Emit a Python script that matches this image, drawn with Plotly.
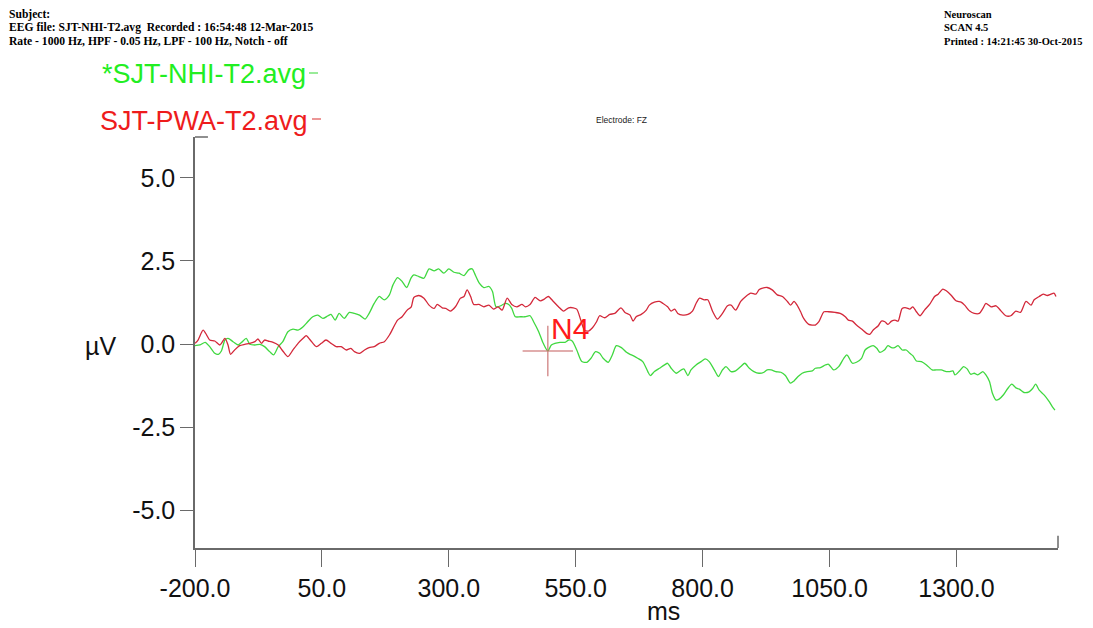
import plotly.graph_objects as go

# ---------------- data ----------------
green_ms = [-200, -190, -180, -171, -161, -154, -148, -141, -135, -125, -115, -108, -99, -92, -82, -72, -63, -53, -45, -36, -27, -17, -7, 3, 13, 22, 32, 42, 52, 62, 68, 76, 84, 94, 104, 114, 124, 135, 143, 153, 163, 173, 183, 190, 199, 208, 217, 226,
            231, 241, 251, 261, 271, 280, 290, 300, 310, 320, 330, 339, 346, 352, 360, 369, 379, 386, 393, 402, 411, 418, 424, 431, 441, 450, 460, 467, 477, 486, 495, 502, 509, 519, 529, 536, 543, 552, 562, 572, 580, 589, 597, 604, 614, 622, 630, 640, 650, 657,
            663, 672, 682, 692, 697, 705, 715, 725, 731, 738, 748, 758, 763, 771, 777, 787, 797, 805, 813, 823, 831, 839, 846, 856, 865, 875, 883, 892, 901, 911, 921, 927, 935, 944, 954, 963, 973, 980, 988, 996, 1006, 1016, 1022, 1032, 1042, 1048, 1058, 1068, 1078, 1084,
            1087, 1095, 1103, 1113, 1120, 1126, 1136, 1143, 1149, 1158, 1165, 1172, 1178, 1185, 1193, 1201, 1208, 1214, 1221, 1231, 1241, 1252, 1260, 1270, 1280, 1286, 1293, 1297, 1306, 1314, 1321, 1328, 1335, 1342, 1352, 1358, 1365, 1371, 1378, 1384, 1393, 1401, 1409, 1417, 1424, 1433, 1443, 1450, 1456, 1463, 1473, 1482, 1489, 1494]
green_uv = [-0.05, -0.03, 0.05, -0.08, -0.28, -0.31, -0.21, 0.12, 0.17, 0.07, -0.03, 0.05, 0.17, -0.01, -0.03, -0.01, -0.08, -0.23, -0.33, -0.08, 0.07, 0.37, 0.45, 0.42, 0.52, 0.67, 0.82, 0.87, 0.77, 0.85, 0.89, 0.72, 0.92, 0.77, 0.95, 0.92, 0.87, 0.75, 0.92, 1.22, 1.43, 1.33, 1.48, 1.78, 2.00, 1.88, 1.70, 2.00,
            2.08, 2.03, 1.98, 2.26, 2.20, 2.26, 2.13, 2.26, 2.16, 2.13, 2.06, 2.23, 2.26, 2.08, 1.83, 1.70, 1.73, 1.58, 1.12, 1.15, 1.22, 1.19, 1.07, 0.82, 0.82, 0.82, 0.85, 0.67, 0.37, 0.02, -0.21, -0.03, 0.02, 0.05, 0.05, 0.12, 0.09, -0.18, -0.53, -0.55, -0.43, -0.23, -0.28, -0.43, -0.55, -0.33, -0.05, -0.11, -0.25, -0.31,
            -0.35, -0.43, -0.53, -0.83, -0.95, -0.83, -0.73, -0.63, -0.58, -0.73, -0.88, -0.78, -0.75, -0.95, -0.78, -0.63, -0.53, -0.45, -0.53, -0.78, -0.98, -0.78, -0.68, -0.83, -0.81, -0.68, -0.58, -0.73, -0.83, -0.88, -0.85, -0.78, -0.78, -0.83, -0.85, -0.95, -1.18, -1.11, -0.98, -0.88, -0.83, -0.81, -0.73, -0.71, -0.63, -0.61, -0.78, -0.68, -0.43, -0.33,
            -0.38, -0.58, -0.55, -0.43, -0.18, -0.11, -0.05, -0.13, -0.25, -0.18, -0.05, -0.11, -0.11, -0.05, -0.18, -0.18, -0.28, -0.35, -0.51, -0.53, -0.63, -0.78, -0.78, -0.78, -0.83, -0.83, -0.81, -0.93, -0.81, -0.68, -0.75, -0.91, -0.88, -0.93, -0.83, -0.93, -1.13, -1.49, -1.69, -1.66, -1.52, -1.34, -1.21, -1.32, -1.36, -1.46, -1.44, -1.34, -1.21, -1.39, -1.54, -1.72, -1.89, -1.99]

red_ms = [-200, -194, -184, -177, -171, -161, -151, -141, -135, -130, -122, -112, -102, -92, -82, -76, -69, -63, -56, -46, -36, -27, -17, -7, 3, 13, 19, 27, 39, 49, 58, 68, 78, 88, 98, 107, 114, 124, 134, 143, 153, 163, 173, 183, 190, 199, 208, 218, 226,
          231, 241, 251, 261, 271, 277, 287, 294, 303, 313, 323, 330, 336, 343, 349, 359, 369, 379, 388, 397, 405, 415, 424, 434, 444, 451, 460, 470, 480, 488, 496, 506, 516, 526, 536, 545, 552, 560, 567, 575, 583, 591, 597, 607, 617, 627, 639, 647, 657,
          663, 669, 679, 689, 695, 705, 715, 722, 731, 738, 745, 751, 761, 771, 780, 787, 794, 803, 810, 820, 829, 839, 849, 856, 865, 875, 885, 895, 905, 911, 918, 927, 937, 947, 957, 967, 973, 980, 986, 993, 999, 1009, 1016, 1022, 1029, 1039, 1048, 1061, 1071, 1081,
          1087, 1095, 1103, 1113, 1123, 1129, 1136, 1146, 1152, 1159, 1165, 1172, 1179, 1185, 1193, 1201, 1208, 1214, 1221, 1228, 1237, 1247, 1257, 1264, 1273, 1280, 1290, 1299, 1309, 1316, 1326, 1335, 1345, 1352, 1358, 1368, 1378, 1388, 1397, 1407, 1417, 1426, 1437, 1447, 1453, 1463, 1471, 1479, 1486, 1492, 1496]
red_uv = [0.02, 0.12, 0.42, 0.27, 0.12, 0.09, -0.03, 0.17, -0.03, -0.31, -0.18, -0.05, -0.01, 0.02, 0.07, 0.15, 0.02, 0.12, 0.09, 0.05, -0.03, -0.21, -0.38, -0.18, 0.02, 0.17, 0.25, 0.12, -0.08, 0.02, 0.12, 0.02, -0.08, -0.08, -0.18, -0.13, -0.23, -0.28, -0.18, -0.11, -0.08, 0.02, 0.07, 0.27, 0.47, 0.72, 0.82, 1.02, 1.12,
          1.40, 1.46, 1.38, 1.17, 1.07, 1.19, 1.09, 1.07, 0.99, 1.12, 1.38, 1.43, 1.63, 1.43, 1.19, 1.19, 1.12, 1.17, 1.05, 1.12, 1.02, 1.38, 1.19, 1.12, 1.19, 1.12, 1.19, 1.40, 1.30, 1.35, 1.43, 1.28, 1.12, 0.99, 1.09, 1.09, 1.05, 0.72, 0.42, 0.39, 0.49, 0.67, 0.85, 0.79, 0.89, 0.92, 1.09, 0.95, 0.87,
          0.69, 0.82, 0.89, 1.02, 1.17, 1.26, 1.28, 1.22, 1.12, 0.99, 1.05, 0.92, 0.87, 0.89, 0.99, 1.22, 1.38, 1.33, 1.33, 0.97, 0.75, 0.92, 1.15, 1.17, 1.02, 1.28, 1.43, 1.53, 1.50, 1.63, 1.68, 1.70, 1.63, 1.48, 1.43, 1.28, 1.17, 1.28, 1.17, 0.97, 0.77, 0.59, 0.57, 0.57, 0.67, 0.97, 0.97, 0.95, 0.92, 0.82,
          0.72, 0.69, 0.57, 0.45, 0.32, 0.29, 0.42, 0.55, 0.69, 0.67, 0.59, 0.69, 0.72, 0.69, 1.07, 1.09, 1.05, 1.12, 0.97, 0.85, 1.02, 1.19, 1.43, 1.50, 1.65, 1.60, 1.46, 1.30, 1.26, 1.17, 0.99, 0.92, 0.92, 1.07, 1.22, 1.12, 1.15, 0.99, 0.85, 0.85, 0.99, 0.95, 1.28, 1.17, 1.33, 1.43, 1.50, 1.46, 1.50, 1.53, 1.43]

x_tickvals = [-200, 50, 300, 550, 800, 1050, 1300]
x_ticktext = ["-200.0", "50.0", "300.0", "550.0", "800.0", "1050.0", "1300.0"]
y_tickvals = [5, 2.5, 0, -2.5, -5]
y_ticktext = ["5.0", "2.5", "0.0", "-2.5", "-5.0"]

n4_ms = [495]
n4_uv = [-0.21]

green_name = "*SJT-NHI-T2.avg"
red_name = "SJT-PWA-T2.avg"

# ---------------- figure ----------------
GREEN = "#40d840"
RED = "#d3283a"
AXC = "#6a6a6a"
FONT = "Liberation Sans, Arial, sans-serif"
SERIF = "Liberation Serif, Times New Roman, serif"

# page has an 8px body margin; figure is sized to fit the window
W, H = 1085, 620
ML, MR, MT, MB = 187, 35, 129, 80

fig = go.Figure()
fig.add_trace(go.Scatter(x=green_ms, y=green_uv, mode="lines", name=green_name,
                         line=dict(color=GREEN, width=1.3, shape="spline", smoothing=0.7)))
fig.add_trace(go.Scatter(x=red_ms, y=red_uv, mode="lines", name=red_name,
                         line=dict(color=RED, width=1.3, shape="spline", smoothing=0.7)))
fig.add_trace(go.Scatter(x=n4_ms, y=n4_uv, mode="markers",
                         marker=dict(symbol="cross-thin", size=36,
                                     line=dict(color="rgba(200,110,110,0.75)", width=1.5))))

fig.update_layout(
    width=W, height=H,
    margin=dict(l=ML, r=MR, t=MT, b=MB),
    paper_bgcolor="white", plot_bgcolor="white",
    showlegend=False,
    font=dict(family=FONT, color="#111"),
)
fig.update_xaxes(range=[-200, 1500], showgrid=False, zeroline=False,
                 showline=True, linecolor=AXC, linewidth=1.5,
                 ticks="outside", ticklen=17, tickwidth=1, tickcolor=AXC,
                 tickmode="array", tickvals=x_tickvals, ticktext=x_ticktext,
                 tickfont=dict(size=25, family=FONT, color="#111"))
fig.update_yaxes(range=[-6.14, 6.23], showgrid=False, zeroline=False,
                 showline=True, linecolor=AXC, linewidth=1.5,
                 ticks="outside", ticklen=13, tickwidth=1, tickcolor=AXC,
                 tickmode="array", tickvals=y_tickvals, ticktext=y_ticktext,
                 tickfont=dict(size=25, family=FONT, color="#111"))

# axis end caps
fig.add_shape(type="line", xref="paper", yref="paper", x0=0, x1=0.015, y0=1, y1=1,
              line=dict(color=AXC, width=1.5))
fig.add_shape(type="line", xref="paper", yref="paper", x0=1, x1=1, y0=0, y1=0.03,
              line=dict(color=AXC, width=1.5))

PW = W - ML - MR
PH = H - MT - MB


def px(xs):
    # screen pixel x -> paper
    return (xs - 8 - ML) / PW


def py(ys):
    # screen pixel y -> paper
    return ((H - (ys - 8)) - MB) / PH


ann = []
hdr_left = ["Subject:", "EEG file: SJT-NHI-T2.avg  Recorded : 16:54:48 12-Mar-2015",
            "Rate - 1000 Hz, HPF - 0.05 Hz, LPF - 100 Hz, Notch - off"]
for i, t in enumerate(hdr_left):
    ann.append(dict(text="<b>%s</b>" % t, x=px(7), y=py(14 + 13.5 * i), xref="paper", yref="paper",
                    xanchor="left", yanchor="middle", showarrow=False,
                    font=dict(family=SERIF, size=11.6, color="#000")))
hdr_right = ["Neuroscan", "SCAN 4.5", "Printed : 14:21:45 30-Oct-2015"]
for i, t in enumerate(hdr_right):
    ann.append(dict(text="<b>%s</b>" % t, x=px(942), y=py(14 + 13.5 * i), xref="paper", yref="paper",
                    xanchor="left", yanchor="middle", showarrow=False,
                    font=dict(family=SERIF, size=10.5, color="#000")))

# legend texts
ann.append(dict(text=green_name, x=px(100), y=py(74), xref="paper", yref="paper",
                xanchor="left", yanchor="middle", showarrow=False,
                font=dict(family=FONT, size=27, color="#22ee22")))
ann.append(dict(text=red_name, x=px(98), y=py(121), xref="paper", yref="paper",
                xanchor="left", yanchor="middle", showarrow=False,
                font=dict(family=FONT, size=27, color="#ee1c1c")))
fig.add_shape(type="line", xref="paper", yref="paper", x0=px(309), x1=px(318), y0=py(73), y1=py(73),
              line=dict(color="#55dd55", width=1.2))
fig.add_shape(type="line", xref="paper", yref="paper", x0=px(312), x1=px(321), y0=py(119), y1=py(119),
              line=dict(color="#e05050", width=1.2))

ann.append(dict(text="Electrode: FZ", x=px(621), y=py(120), xref="paper", yref="paper",
                xanchor="center", yanchor="middle", showarrow=False,
                font=dict(family=FONT, size=8.5, color="#222")))
ann.append(dict(text="µV", x=px(100), y=py(346), xref="paper", yref="paper",
                xanchor="center", yanchor="middle", showarrow=False,
                font=dict(family=FONT, size=25, color="#111")))
ann.append(dict(text="ms", x=px(663), y=py(611), xref="paper", yref="paper",
                xanchor="center", yanchor="middle", showarrow=False,
                font=dict(family=FONT, size=25, color="#111")))
ann.append(dict(text="N4", x=n4_ms[0], y=n4_uv[0], xref="x", yref="y",
                xanchor="left", yanchor="bottom", xshift=1, yshift=4, showarrow=False,
                font=dict(family=FONT, size=30, color="#ff1a1a")))

fig.update_layout(annotations=ann)
fig.write_html("out.html")
